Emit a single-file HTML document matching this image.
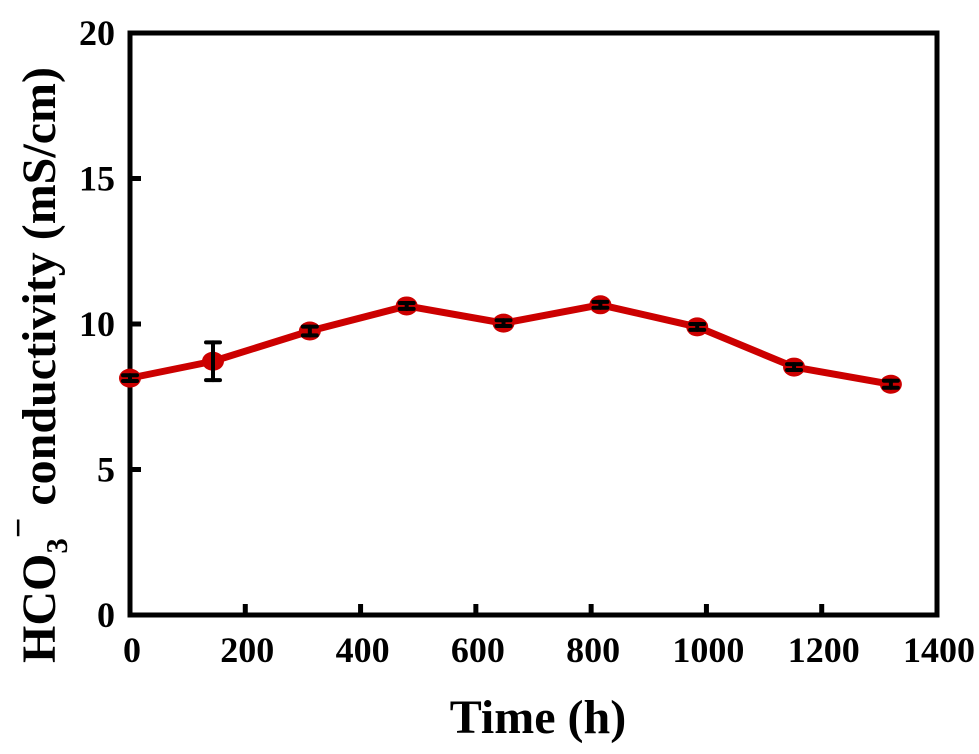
<!DOCTYPE html>
<html><head><meta charset="utf-8"><style>
body{margin:0;background:#fff}
svg text{font-family:"Liberation Serif",serif;font-weight:bold;fill:#000}
</style></head><body>
<svg id="chart" width="979" height="749" xmlns="http://www.w3.org/2000/svg"></svg>
<script>
const timesH=[0,144,312,480,648,816,984,1152,1320];
const conductivity=[8.14,8.72,9.76,10.62,10.03,10.66,9.90,8.52,7.93];
const errors=[0.1,0.65,0.15,0.1,0.1,0.1,0.1,0.1,0.12];
const xTicks=[0,200,400,600,800,1000,1200,1400];
const yTicks=[0,5,10,15,20];
const L=130,R=937,T=33,B=615;
const xs=v=>L+(v/1400)*(R-L);
const ys=v=>B-(v/20)*(B-T);
const svg=document.getElementById('chart');
const NS='http://www.w3.org/2000/svg';
function mk(t,a,p){const e=document.createElementNS(NS,t);for(const k in a)e.setAttribute(k,a[k]);(p||svg).appendChild(e);return e;}
xTicks.forEach(v=>{
 const t=mk('line',{x1:xs(v),x2:xs(v),y1:B,y2:B-11,stroke:'#000','stroke-width':5});
 
 
 const l=mk('text',{x:xs(v)+2,y:B+47,'text-anchor':'middle','font-size':36});
 l.textContent=v;
 
 
});
yTicks.forEach(v=>{
 const t=mk('line',{x1:L,x2:L+11,y1:ys(v),y2:ys(v),stroke:'#000','stroke-width':5});
 
 
 const l=mk('text',{x:L-15,y:ys(v)+12,'text-anchor':'end','font-size':36});
 l.textContent=v;
 
 
});
const fr=mk('rect',{x:L,y:T,width:R-L,height:B-T,fill:'none',stroke:'#000','stroke-width':5});


const pl=mk('polyline',{points:timesH.map((t,i)=>xs(t)+','+ys(conductivity[i])).join(' '),fill:'none',stroke:'#cc0000','stroke-width':7,'stroke-linejoin':'round'});


timesH.forEach((t,i)=>{
 const x=xs(t),y=ys(conductivity[i]);
 const c=mk('ellipse',{cx:x,cy:y,rx:11,ry:9.5,fill:'#cc0000'});
 
 
 const y1=ys(conductivity[i]+errors[i]),y2=ys(conductivity[i]-errors[i]);
 const g=mk('g',{stroke:'#000','stroke-width':4,'stroke-linecap':'round'});
 
 
 mk('line',{x1:x,x2:x,y1:y1,y2:y2},g);
 mk('line',{x1:x-7,x2:x+7,y1:y1,y2:y1},g);
 mk('line',{x1:x-7,x2:x+7,y1:y2,y2:y2},g);
});
</script>
<svg style="position:absolute;left:0;top:0" width="979" height="749" xmlns="http://www.w3.org/2000/svg">
<text x="538" y="733" text-anchor="middle" font-size="48">Time (h)</text>
<text transform="translate(55,365) rotate(-90)" text-anchor="middle" font-size="48">HCO<tspan font-size="31" dy="12">3</tspan><tspan font-size="36" dy="-37">−</tspan><tspan dy="25"> conductivity (mS/cm)</tspan></text>
</svg>
</body></html>
